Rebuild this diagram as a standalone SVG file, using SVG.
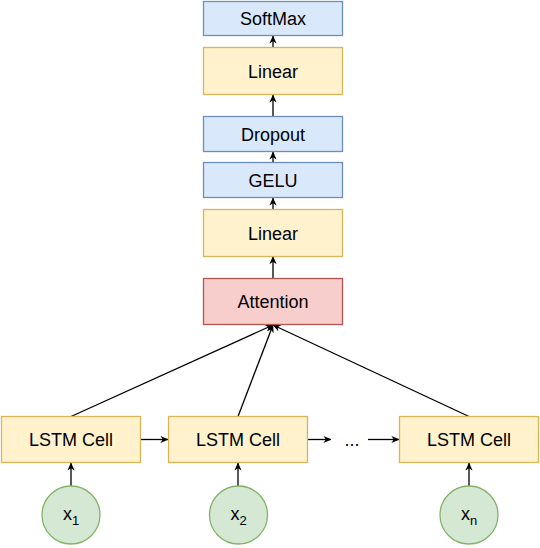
<svg xmlns="http://www.w3.org/2000/svg" width="540" height="548" viewBox="0 0 540 548">
<style>
text{font-family:"Liberation Sans",Arial,sans-serif;font-size:18px;fill:#000;text-anchor:middle}
.blue{fill:#dae8fc;stroke:#6c8ebf;stroke-width:1.3}
.yellow{fill:#fff2cc;stroke:#d6b656;stroke-width:1.3}
.red{fill:#f8cecc;stroke:#b85450;stroke-width:1.3}
.green{fill:#d5e8d4;stroke:#82b366;stroke-width:1.3}
.edge{stroke:#000;stroke-width:1.3;fill:none;marker-end:url(#arr)}
</style>
<defs>
<marker id="arr" viewBox="0 0 10 10" refX="9.5" refY="5" markerWidth="8" markerHeight="8" markerUnits="userSpaceOnUse" orient="auto">
<path d="M0,0.5 L10,5 L0,9.5 L3,5 Z" fill="#000"/>
</marker>
</defs>
<g id="connectors">
<line class="edge" x1="273" y1="47.5" x2="273" y2="36"/>
<line class="edge" x1="273" y1="116.5" x2="273" y2="95"/>
<line class="edge" x1="273" y1="162.5" x2="273" y2="152"/>
<line class="edge" x1="273" y1="209.5" x2="273" y2="198"/>
<line class="edge" x1="273" y1="278.5" x2="273" y2="256.5"/>
<line class="edge" x1="71" y1="416.5" x2="273" y2="325"/>
<line class="edge" x1="238" y1="416.5" x2="273" y2="325"/>
<line class="edge" x1="469" y1="416.5" x2="273" y2="325"/>
<line class="edge" x1="140.5" y1="439.5" x2="168" y2="439.5"/>
<line class="edge" x1="307.5" y1="439.5" x2="331" y2="439.5"/>
<line class="edge" x1="368" y1="439.5" x2="399" y2="439.5"/>
<line class="edge" x1="71" y1="486" x2="71" y2="463"/>
<line class="edge" x1="238" y1="486" x2="238" y2="463"/>
<line class="edge" x1="469" y1="486" x2="469" y2="463"/>
</g>
<g id="softmax"><rect class="blue" x="203.5" y="1.5" width="139" height="34"/><text x="273" y="25">SoftMax</text></g>
<g id="linear2"><rect class="yellow" x="203.5" y="47.5" width="139" height="47"/><text x="273" y="77.5">Linear</text></g>
<g id="dropout"><rect class="blue" x="203.5" y="116.5" width="139" height="35"/><text x="273" y="140.5">Dropout</text></g>
<g id="gelu"><rect class="blue" x="203.5" y="162.5" width="139" height="35"/><text x="273" y="186.5">GELU</text></g>
<g id="linear1"><rect class="yellow" x="203.5" y="209.5" width="139" height="47"/><text x="273" y="239.5">Linear</text></g>
<g id="attention"><rect class="red" x="203.5" y="278.5" width="139" height="46"/><text x="273" y="308">Attention</text></g>
<g id="lstm1"><rect class="yellow" x="1.5" y="416.5" width="139" height="46"/><text x="71" y="446">LSTM Cell</text></g>
<g id="lstm2"><rect class="yellow" x="168.5" y="416.5" width="139" height="46"/><text x="238" y="446">LSTM Cell</text></g>
<g id="ellipsis"><text x="352" y="446">...</text></g>
<g id="lstmn"><rect class="yellow" x="399.5" y="416.5" width="139" height="46"/><text x="469" y="446">LSTM Cell</text></g>
<g id="x1"><circle class="green" cx="71" cy="515" r="29"/><text x="71" y="520">x<tspan font-size="13" dy="5">1</tspan></text></g>
<g id="x2"><circle class="green" cx="238.5" cy="515" r="29"/><text x="238.5" y="520">x<tspan font-size="13" dy="5">2</tspan></text></g>
<g id="xn"><circle class="green" cx="469" cy="515" r="29"/><text x="469" y="520">x<tspan font-size="13" dy="5">n</tspan></text></g>
</svg>
